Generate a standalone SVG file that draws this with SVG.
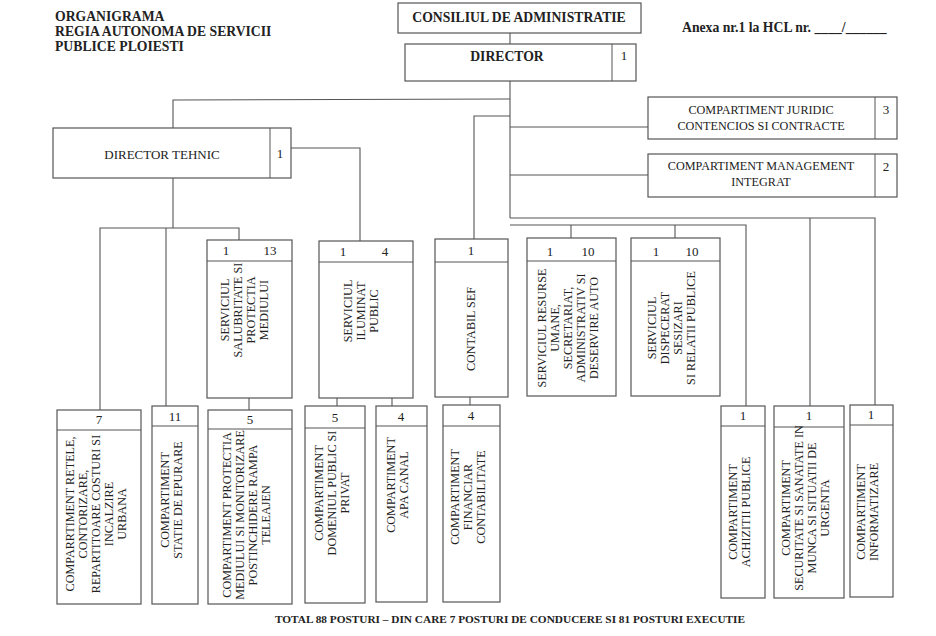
<svg xmlns="http://www.w3.org/2000/svg" width="936" height="636" viewBox="0 0 936 636">
<style>
rect{fill:#fff;stroke:#555;stroke-width:1.2}
.c line,.c polyline{stroke:#555;stroke-width:1.1;fill:none}
text{font-family:"Liberation Serif","Times New Roman",serif;font-size:12.2px;fill:#222}
.b{font-weight:bold;font-size:13.7px}
.n{font-size:13px;text-anchor:middle}
.v{text-anchor:middle}
</style>
<rect x="0" y="0" width="936" height="636" style="stroke:none"/>
<text class="b" x="55" y="21">ORGANIGRAMA</text>
<text class="b" x="55" y="36">REGIA AUTONOMA DE SERVICII</text>
<text class="b" x="55" y="51">PUBLICE PLOIESTI</text>
<text class="b" x="682" y="32">Anexa nr.1 la HCL nr. ____/______</text>
<text class="b" x="510" y="623" text-anchor="middle" style="font-size:11.3px">TOTAL 88 POSTURI – DIN CARE 7 POSTURI DE CONDUCERE SI 81 POSTURI EXECUTIE</text>

<g class="c" id="connectors">
<line x1="510" y1="33" x2="510" y2="44"/>
<line x1="510" y1="81" x2="510" y2="218"/>
<polyline points="173,128 173,100 510,99"/>
<polyline points="510,116 474,116 474,239"/>
<line x1="510" y1="127" x2="648" y2="127"/>
<line x1="510" y1="175" x2="648" y2="175"/>
<polyline points="510,218 875,218 875,405"/>
<line x1="810" y1="218" x2="810" y2="406"/>
<polyline points="510,225 746,225 746,406"/>
<line x1="571" y1="225" x2="571" y2="238"/>
<line x1="675" y1="225" x2="675" y2="238"/>
<polyline points="291,148 360,148 360,241"/>
<line x1="173" y1="178" x2="173" y2="228"/>
<polyline points="100,410 100,228 239,228 239,240"/>
<line x1="166" y1="228" x2="166" y2="406"/>
<line x1="249" y1="398" x2="249" y2="410"/>
<line x1="337" y1="398" x2="337" y2="406"/>
<line x1="392" y1="398" x2="392" y2="406"/>
<line x1="470" y1="397" x2="470" y2="405"/>
</g>

<g id="consiliul"><rect x="398" y="3" width="243" height="30"/><text class="b" x="519" y="22" text-anchor="middle">CONSILIUL DE ADMINISTRATIE</text></g>
<g id="director"><rect x="405" y="44" width="231" height="37"/><line x1="612" y1="44" x2="612" y2="81" stroke="#555"/><text class="b" x="507" y="61" text-anchor="middle">DIRECTOR</text><text class="n" x="624" y="60">1</text></g>
<g id="juridic"><rect x="648" y="97" width="249" height="42"/><line x1="875" y1="97" x2="875" y2="139" stroke="#555"/><text class="v" x="761" y="114">COMPARTIMENT JURIDIC</text><text class="v" x="761" y="130">CONTENCIOS SI CONTRACTE</text><text class="n" x="886" y="114">3</text></g>
<g id="management"><rect x="648" y="154" width="249" height="43"/><line x1="875" y1="154" x2="875" y2="197" stroke="#555"/><text class="v" x="761" y="170">COMPARTIMENT MANAGEMENT</text><text class="v" x="761" y="186">INTEGRAT</text><text class="n" x="886" y="171">2</text></g>
<g id="director-tehnic"><rect x="53" y="128" width="238" height="50"/><line x1="270" y1="128" x2="270" y2="178" stroke="#555"/><text class="v" x="162" y="159" style="font-size:13px">DIRECTOR TEHNIC</text><text class="n" x="280" y="158">1</text></g>

<g id="salubritate"><rect x="207" y="240" width="85" height="158"/><line x1="207" y1="261" x2="292" y2="261" stroke="#555"/><text class="n" x="226" y="255">1</text><text class="n" x="270" y="255">13</text>
<text class="v" transform="translate(249,310) rotate(-90)"><tspan x="0" y="-20">SERVICIUL</tspan><tspan x="0" y="-7">SALUBRITATE SI</tspan><tspan x="0" y="6">PROTECTIA</tspan><tspan x="0" y="19">MEDIULUI</tspan></text></g>
<g id="iluminat"><rect x="319" y="241" width="94" height="157"/><line x1="319" y1="262" x2="413" y2="262" stroke="#555"/><text class="n" x="343" y="256">1</text><text class="n" x="385" y="256">4</text>
<text class="v" transform="translate(365,311) rotate(-90)"><tspan x="0" y="-13">SERVICIUL</tspan><tspan x="0" y="0">ILUMINAT</tspan><tspan x="0" y="13">PUBLIC</tspan></text></g>
<g id="contabil"><rect x="435" y="239" width="73" height="158"/><line x1="435" y1="262" x2="508" y2="262" stroke="#555"/><text class="n" x="471" y="255">1</text>
<text class="v" transform="translate(471,329) rotate(-90)"><tspan x="0" y="4">CONTABIL SEF</tspan></text></g>
<g id="resurse"><rect x="527" y="238" width="89" height="158"/><line x1="527" y1="261" x2="616" y2="261" stroke="#555"/><text class="n" x="550" y="256">1</text><text class="n" x="588" y="256">10</text>
<text class="v" transform="translate(571,328) rotate(-90)"><tspan x="0" y="-25">SERVICIUL RESURSE</tspan><tspan x="0" y="-12">UMANE,</tspan><tspan x="0" y="1">SECRETARIAT,</tspan><tspan x="0" y="14">ADMINISTRATIV SI</tspan><tspan x="0" y="27">DESERVIRE AUTO</tspan></text></g>
<g id="dispecerat"><rect x="631" y="238" width="89" height="158"/><line x1="631" y1="261" x2="720" y2="261" stroke="#555"/><text class="n" x="656" y="256">1</text><text class="n" x="692" y="256">10</text>
<text class="v" transform="translate(675,328) rotate(-90)"><tspan x="0" y="-19">SERVICIUL</tspan><tspan x="0" y="-6">DISPECERAT</tspan><tspan x="0" y="7">SESIZARI</tspan><tspan x="0" y="20">SI RELATII PUBLICE</tspan></text></g>

<g id="retele"><rect x="57" y="410" width="84" height="194"/><line x1="57" y1="430" x2="141" y2="430" stroke="#555"/><text class="n" x="99" y="424">7</text>
<text class="v" transform="translate(99,514) rotate(-90)"><tspan x="0" y="-25">COMPARRTIMENT RETELE,</tspan><tspan x="0" y="-12">CONTORIZARE,</tspan><tspan x="0" y="1">REPARTITOARE  COSTURI SI</tspan><tspan x="0" y="14">INCALZIRE</tspan><tspan x="0" y="27">URBANA</tspan></text></g>
<g id="statie"><rect x="152" y="406" width="46" height="198"/><line x1="152" y1="426" x2="198" y2="426" stroke="#555"/><text class="n" x="175" y="421">11</text>
<text class="v" transform="translate(175,500) rotate(-90)"><tspan x="0" y="-6">COMPARTIMENT</tspan><tspan x="0" y="7">STATIE DE EPURARE</tspan></text></g>
<g id="protectia"><rect x="208" y="410" width="84" height="194"/><line x1="208" y1="429" x2="292" y2="429" stroke="#555"/><text class="n" x="250" y="424">5</text>
<text class="v" transform="translate(250,515) rotate(-90)"><tspan x="0" y="-19">COMPARTIMENT PROTECTIA</tspan><tspan x="0" y="-6">MEDIULUI SI MONITORIZARE</tspan><tspan x="0" y="7">POSTINCHIDERE RAMPA</tspan><tspan x="0" y="20">TELEAJEN</tspan></text></g>
<g id="domeniul"><rect x="305" y="406" width="60" height="197"/><line x1="305" y1="428" x2="365" y2="428" stroke="#555"/><text class="n" x="335" y="422">5</text>
<text class="v" transform="translate(335,493) rotate(-90)"><tspan x="0" y="-12">COMPARTIMENT</tspan><tspan x="0" y="1">DOMENIUL PUBLIC SI</tspan><tspan x="0" y="14">PRIVAT</tspan></text></g>
<g id="apa"><rect x="376" y="406" width="51" height="196"/><line x1="376" y1="426" x2="427" y2="426" stroke="#555"/><text class="n" x="401" y="421">4</text>
<text class="v" transform="translate(401,485) rotate(-90)"><tspan x="0" y="-6">COMPARTIMENT</tspan><tspan x="0" y="7">APA CANAL</tspan></text></g>
<g id="financiar"><rect x="443" y="405" width="57" height="197"/><line x1="443" y1="426" x2="500" y2="426" stroke="#555"/><text class="n" x="471" y="420">4</text>
<text class="v" transform="translate(471,497) rotate(-90)"><tspan x="0" y="-12">COMPARTIMENT</tspan><tspan x="0" y="1">FINANCIAR</tspan><tspan x="0" y="14">CONTABILITATE</tspan></text></g>
<g id="achizitii"><rect x="721" y="406" width="44" height="192"/><line x1="721" y1="426" x2="765" y2="426" stroke="#555"/><text class="n" x="743" y="420">1</text>
<text class="v" transform="translate(743,512) rotate(-90)"><tspan x="0" y="-6">COMPARTIMENT</tspan><tspan x="0" y="7">ACHIZITII PUBLICE</tspan></text></g>
<g id="securitate"><rect x="774" y="406" width="70" height="192"/><line x1="774" y1="427" x2="844" y2="427" stroke="#555"/><text class="n" x="809" y="420">1</text>
<text class="v" transform="translate(809,508) rotate(-90)"><tspan x="0" y="-19">COMPARTIMENT</tspan><tspan x="0" y="-6">SECURITATE SI SANATATE IN</tspan><tspan x="0" y="7">MUNCA SI SITUATII DE</tspan><tspan x="0" y="20">URGENTA</tspan></text></g>
<g id="informatizare"><rect x="850" y="405" width="43" height="192"/><line x1="850" y1="425" x2="893" y2="425" stroke="#555"/><text class="n" x="871" y="419">1</text>
<text class="v" transform="translate(871,512) rotate(-90)"><tspan x="0" y="-6">COMPARTIMENT</tspan><tspan x="0" y="7">INFORMATIZARE</tspan></text></g>
</svg>
